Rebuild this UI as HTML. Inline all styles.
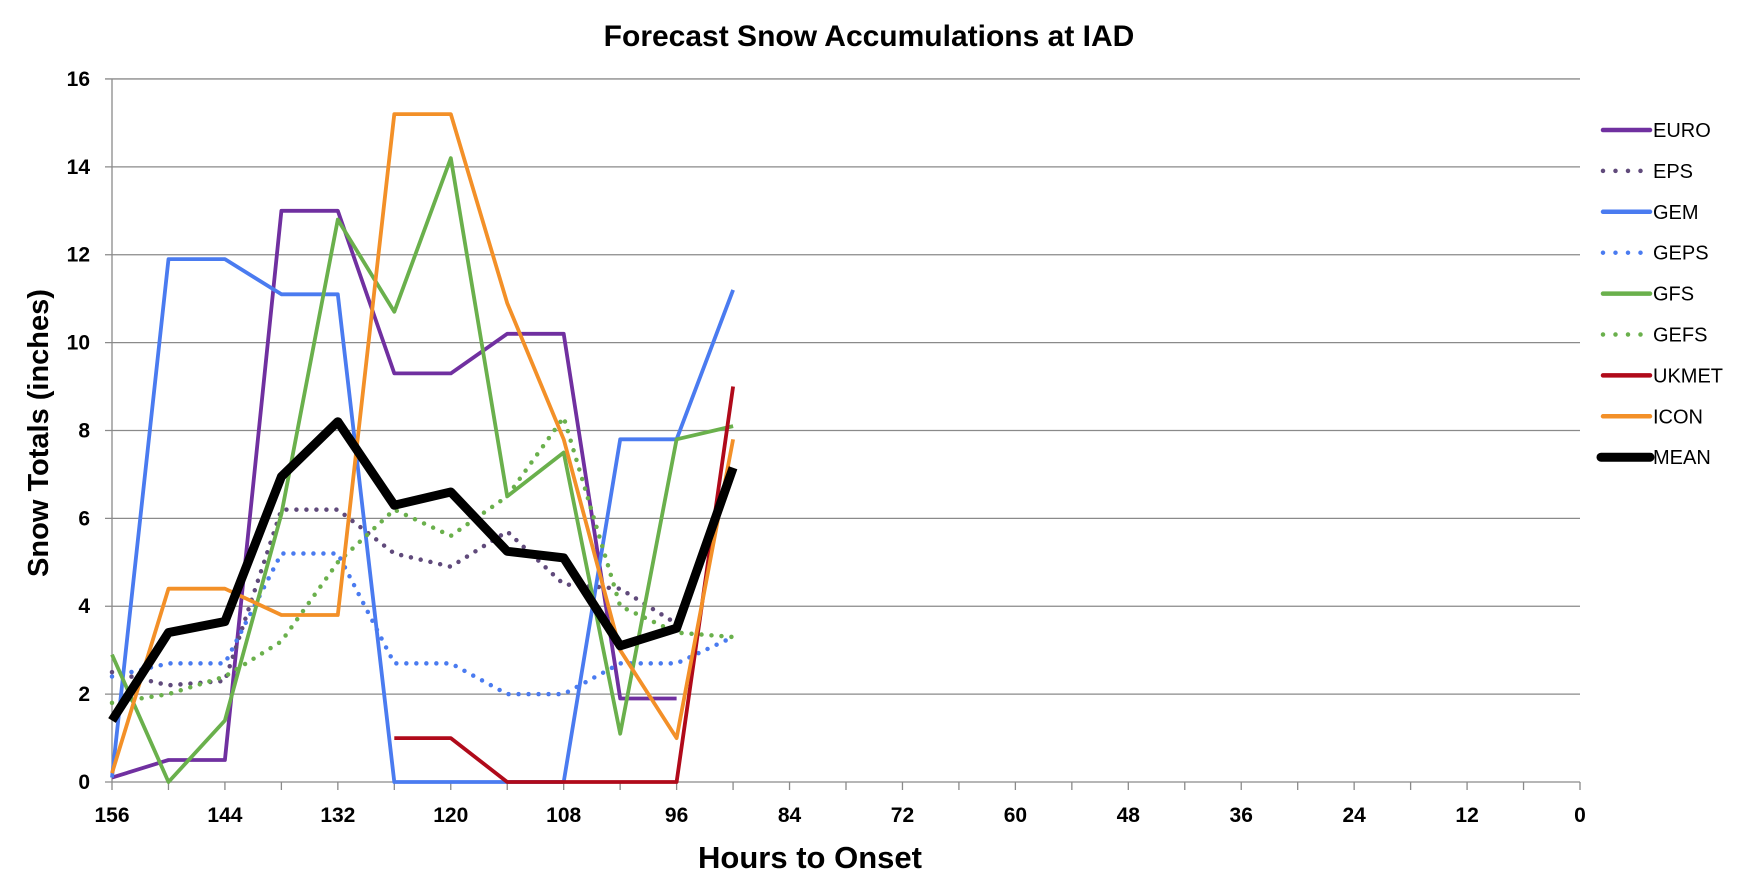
<!DOCTYPE html>
<html><head><meta charset="utf-8"><style>
html,body{margin:0;padding:0;background:#fff}
svg text{font-family:"Liberation Sans Narrow","Liberation Sans",sans-serif;font-weight:bold}
</style></head><body>
<svg id="c" width="1752" height="882" xmlns="http://www.w3.org/2000/svg">
<text x="869" y="46" font-size="30" text-anchor="middle">Forecast Snow Accumulations at IAD</text>
<text transform="translate(48,433) rotate(-90)" font-size="29" text-anchor="middle" style="font-family:'Liberation Sans',sans-serif">Snow Totals (inches)</text>
<text x="810" y="868" font-size="31" text-anchor="middle">Hours to Onset</text>
<g id="g"></g>
</svg>
<script>
const X0=112,X1=1580,Y0=782,U=43.94;
const xp=i=>X0+i*(X1-X0)/26, yp=v=>Y0-v*U;
let s='';
for(let v=0;v<=16;v+=2){const y=yp(v);
 s+=`<line x1="105" y1="${y}" x2="${X1}" y2="${y}" stroke="#8a8a8a" stroke-width="1.3"/>`;
 s+=`<text x="90" y="${y+7}" font-size="21" text-anchor="end" style="font-family:'Liberation Sans',sans-serif">${v}</text>`;}
s+=`<line x1="${X0}" y1="${yp(16)}" x2="${X0}" y2="${Y0}" stroke="#8a8a8a" stroke-width="1.3"/>`;
for(let i=0;i<=26;i++){const x=xp(i);
 s+=`<line x1="${x}" y1="${Y0}" x2="${x}" y2="${Y0+8}" stroke="#8a8a8a" stroke-width="1.3"/>`;
 if(i%2==0) s+=`<text x="${x}" y="${Y0+40}" font-size="21" text-anchor="middle" style="font-family:'Liberation Sans',sans-serif">${156-i*6}</text>`;}
const S=[
['EURO','#7030a0',0,[0.1,0.5,0.5,13,13,9.3,9.3,10.2,10.2,1.9,1.9],0],
['EPS','#604a7b',0,[2.5,2.2,2.3,6.2,6.2,5.2,4.9,5.7,4.5,4.4,3.6],1],
['GEM','#4a7bf0',0,[0.1,11.9,11.9,11.1,11.1,0,0,0,0,7.8,7.8,11.2],0],
['GEPS','#4a7bf0',0,[2.4,2.7,2.7,5.2,5.2,2.7,2.7,2.0,2.0,2.7,2.7,3.3],1],
['GFS','#6ab04c',0,[2.9,0,1.4,6.1,12.8,10.7,14.2,6.5,7.5,1.1,7.8,8.1],0],
['GEFS','#6ab04c',0,[1.8,2.0,2.4,3.2,5.0,6.2,5.6,6.5,8.3,4.0,3.4,3.3],1],
['UKMET','#b00a1a',5,[1,1,0,0,0,0,9.0],0],
['ICON','#f39028',0,[0.2,4.4,4.4,3.8,3.8,15.2,15.2,10.9,7.8,3.0,1.0,7.8],0],
['MEAN','#000',0,[1.4,3.4,3.65,6.95,8.2,6.3,6.6,5.25,5.1,3.1,3.5,7.15],2]];
S.forEach((d,k)=>{const [n,c,o,v,t]=d;
 const pts=v.map((y,i)=>xp(o+i).toFixed(1)+','+yp(y).toFixed(1)).join(' ');
 const w=t==2?9:(t==1?4.5:3.8);
 const da=t==1?' stroke-dasharray="0 10" stroke-linecap="round"':'';
 s+=`<polyline points="${pts}" fill="none" stroke="${c}" stroke-width="${w}" stroke-linejoin="round"${da}/>`;
 const ly=130+k*40.9;
 s+=`<line x1="${t==2?1601:1603}" y1="${ly}" x2="1650" y2="${ly}" stroke="${c}" stroke-width="${t==2?9:4.5}" stroke-linecap="round"${t==1?' stroke-dasharray="0 12.5"':''}/>`;
 s+=`<text x="1653" y="${ly+7}" font-size="20" style="font-family:'Liberation Sans',sans-serif;font-weight:normal">${n}</text>`;
});
document.getElementById('g').innerHTML=s;
</script>
</body></html>
